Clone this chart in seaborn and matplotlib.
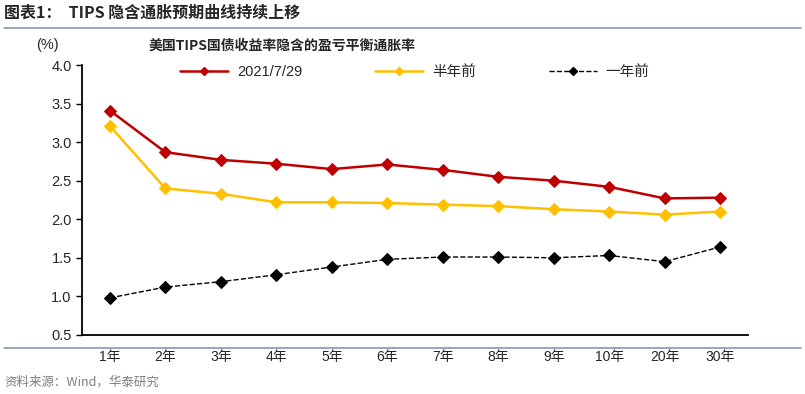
import numpy as np
import pandas as pd
import matplotlib
matplotlib.use("Agg")
import matplotlib.pyplot as plt
import seaborn as sns
from matplotlib.lines import Line2D

# data
tenors = ["1年", "2年", "3年", "4年", "5年", "6年", "7年", "8年", "9年", "10年", "20年", "30年"]
latest = [3.41, 2.87, 2.77, 2.72, 2.65, 2.71, 2.64, 2.55, 2.50, 2.42, 2.27, 2.28]
half_year_ago = [3.21, 2.40, 2.33, 2.22, 2.22, 2.21, 2.19, 2.17, 2.13, 2.10, 2.06, 2.10]
one_year_ago = [0.98, 1.12, 1.19, 1.28, 1.38, 1.48, 1.51, 1.51, 1.50, 1.53, 1.45, 1.64]
series_names = ["2021/7/29", "半年前", "一年前"]

sns.set_style("white")
plt.rcParams['font.family'] = ['Liberation Sans', 'Noto Sans CJK SC']

df = pd.DataFrame({"pos": np.arange(len(tenors)),
                   series_names[0]: latest,
                   series_names[1]: half_year_ago,
                   series_names[2]: one_year_ago})

fig = plt.figure(figsize=(8.05, 3.94), dpi=100)
ax = fig.add_axes([0.102, 0.150, 0.827, 0.685])

colors = ["#C00000", "#FFC000", "#000000"]
styles = ["-", "-", "--"]
widths = [1.8, 1.8, 1.0]
for name, c, ls, lw in zip(series_names, colors, styles, widths):
    sns.lineplot(data=df, x="pos", y=name, ax=ax, color=c, linestyle=ls,
                 linewidth=lw, marker="D", markersize=6.5, markeredgecolor=c,
                 label=name)

ax.set_xlim(-0.5, len(tenors) - 0.5)
ax.set_ylim(0.5, 4.0)
ax.set_yticks(np.arange(0.5, 4.01, 0.5))
ax.set_yticklabels([f"{v:.1f}" for v in np.arange(0.5, 4.01, 0.5)], fontsize=10.5)
ax.set_xticks(np.arange(len(tenors)))
ax.set_xticklabels(tenors, fontsize=10)
ax.set_xticks(np.arange(-0.5, len(tenors)), minor=True)
ax.tick_params(axis="x", which="major", length=0, pad=11)
ax.tick_params(axis="x", which="minor", length=4, width=1, direction="out", color="black")
ax.tick_params(axis="y", length=4, width=1, direction="out", color="black", left=True)
ax.set_xlabel("")
ax.set_ylabel("")
sns.despine(ax=ax)
for s in ["left", "bottom"]:
    ax.spines[s].set_color("black")
    ax.spines[s].set_linewidth(1.3)

handles = [Line2D([], [], color=c, linestyle=ls, linewidth=lw, marker="D", markersize=4,
                  markeredgecolor=c) for c, ls, lw in zip(colors, styles, widths)]
ax.legend(handles, series_names, ncol=3, loc="upper center", bbox_to_anchor=(0.5, 1.05),
          frameon=False, fontsize=10.5, handlelength=3.3, columnspacing=5.0,
          handletextpad=0.6)

fig.text(0.045, 0.875, "(%)", fontsize=10.5)
fig.text(0.185, 0.875, "美国TIPS国债收益率隐含的盈亏平衡通胀率", fontsize=10,
         fontweight="bold", family=['Noto Sans CJK SC', 'DejaVu Sans'])
fig.text(0.005, 0.955, "图表1：  TIPS 隐含通胀预期曲线持续上移", fontsize=11.5,
         fontweight="bold", family=['Noto Sans CJK SC', 'DejaVu Sans'])
fig.add_artist(Line2D([0.005, 0.995], [0.928, 0.928], color="#8497B0", linewidth=1.2))
fig.add_artist(Line2D([0.005, 0.995], [0.117, 0.117], color="#8497B0", linewidth=1.2))
fig.text(0.005, 0.02, "资料来源：Wind，华泰研究", fontsize=9, color="#7F7F7F",
         family=['Noto Sans CJK SC', 'DejaVu Sans'])

fig.savefig("out.png", dpi=100)
